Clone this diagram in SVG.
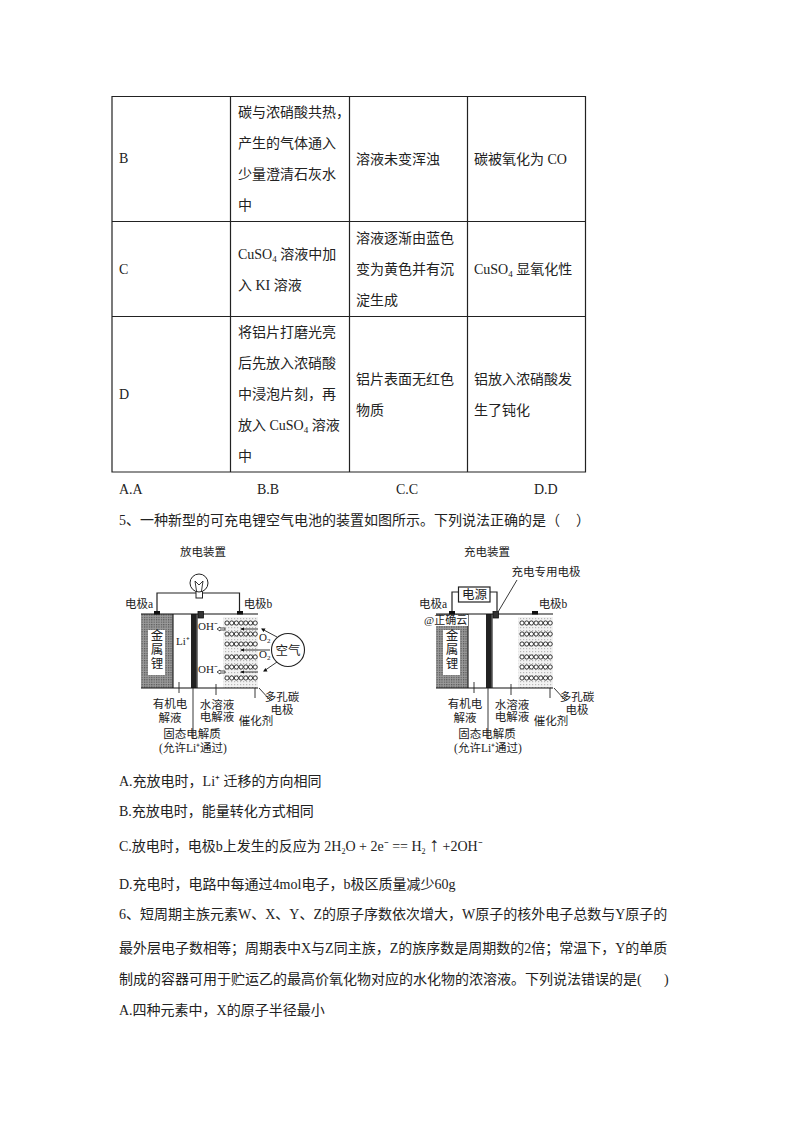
<svg xmlns="http://www.w3.org/2000/svg" xmlns:xlink="http://www.w3.org/1999/xlink" width="794" height="1123" viewBox="0 0 794 1123">
<style>
text{font-family:"Liberation Serif","Noto Sans CJK SC",serif;fill:#222}
.t{font-size:14px}
.l{font-size:11.5px;text-anchor:middle}
.m{font-size:12.5px;text-anchor:middle}
.g{fill:none;stroke:#222;stroke-width:1.2}
.b{fill:none;stroke:#111;stroke-width:1.1}
.f{font-size:11px}
.hd{fill:#111}
.ho{fill:#fff;stroke:#222;stroke-width:.8}
.c{fill:#fff;stroke:#222;stroke-width:.9}
.lead{fill:none;stroke:#222;stroke-width:.9}
</style>
<defs>
<pattern id="dots" width="2.4" height="2.4" patternUnits="userSpaceOnUse"><rect width="2.4" height="2.4" fill="#9a9a9a"/><rect width="1.2" height="1.2" fill="#555"/></pattern>
<pattern id="dotsL" width="3" height="3" patternUnits="userSpaceOnUse"><rect width="3" height="3" fill="#f2f2f2"/><rect width="1.2" height="1.2" fill="#b8b8b8"/></pattern>
<g id="row"><circle class="c" cx="0" cy="0" r="2.1"/><circle class="c" cx="4.7" cy="0" r="2.1"/><circle class="c" cx="9.4" cy="0" r="2.1"/><circle class="c" cx="14.1" cy="0" r="2.1"/><circle class="c" cx="18.8" cy="0" r="2.1"/><circle class="c" cx="23.5" cy="0" r="2.1"/><circle class="c" cx="28.2" cy="0" r="2.1"/></g>
<g id="cell">
<rect x="223" y="617" width="35" height="71" fill="url(#dotsL)"/>
<rect x="141" y="614" width="32" height="74" fill="url(#dots)"/>
<rect x="148" y="630" width="17" height="45" fill="#fff"/>
<rect x="191" y="614" width="5.500" height="74" fill="#222"/>
<path class="b" d="M141 614H258M141 688H258M173 614V688M197 614V688"/>
<use xlink:href="#row" x="227" y="623"/><use xlink:href="#row" x="227" y="634"/><use xlink:href="#row" x="227" y="644"/><use xlink:href="#row" x="227" y="657"/><use xlink:href="#row" x="227" y="667"/><use xlink:href="#row" x="227" y="678"/>
<rect x="154" y="611" width="6" height="3.500" fill="#111"/><rect x="237" y="611" width="6" height="3.500" fill="#111"/>
<rect x="198" y="611.500" width="5.500" height="6.500" fill="#333" stroke="#111" stroke-width=".8"/>
<path class="lead" d="M179 682V693M193 688V738M216 684V695M255 688V698M259 688L270 700"/>
<text class="m" x="157" y="640">金</text><text class="m" x="157" y="654">属</text><text class="m" x="157" y="668">锂</text>
<text class="l" x="170" y="708">有机电</text><text class="l" x="170" y="722">解液</text>
<text class="l" x="217" y="709">水溶液</text><text class="l" x="217" y="721">电解液</text>
<text class="l" x="256" y="725">催化剂</text>
<text class="l" x="282" y="701">多孔碳</text><text class="l" x="282" y="714">电极</text>
<text class="l" x="192" y="738">固态电解质</text>
<text class="l" x="193" y="752">(允许Li⁺通过)</text>
</g>
</defs>
<rect width="794" height="1123" fill="#fff"/>
<g id="table">
<path class="g" d="M112 96.500H585.500V472H112ZM112 221.500H585.500M112 316.500H585.500M230.500 96.500V472M349.500 96.500V472M467.500 96.500V472"/>
<text class="t" x="119" y="163">B</text>
<text class="t" x="238" y="117">碳与浓硝酸共热，</text>
<text class="t" x="238" y="148">产生的气体通入</text>
<text class="t" x="238" y="179">少量澄清石灰水</text>
<text class="t" x="238" y="210">中</text>
<text class="t" x="356" y="164">溶液未变浑浊</text>
<text class="t" x="474" y="164">碳被氧化为 CO</text>
<text class="t" x="119" y="274">C</text>
<text class="t" x="238" y="259">CuSO<tspan font-size="9" dy="3">4</tspan><tspan dy="-3"> 溶液中加</tspan></text>
<text class="t" x="238" y="290">入 KI 溶液</text>
<text class="t" x="356" y="243">溶液逐渐由蓝色</text>
<text class="t" x="356" y="274">变为黄色并有沉</text>
<text class="t" x="356" y="305">淀生成</text>
<text class="t" x="474" y="274">CuSO<tspan font-size="9" dy="3">4</tspan><tspan dy="-3"> 显氧化性</tspan></text>
<text class="t" x="119" y="399">D</text>
<text class="t" x="238" y="337">将铝片打磨光亮</text>
<text class="t" x="238" y="368">后先放入浓硝酸</text>
<text class="t" x="238" y="399">中浸泡片刻，再</text>
<text class="t" x="238" y="430">放入 CuSO<tspan font-size="9" dy="3">4</tspan><tspan dy="-3"> 溶液</tspan></text>
<text class="t" x="238" y="461">中</text>
<text class="t" x="356" y="384">铝片表面无红色</text>
<text class="t" x="356" y="415">物质</text>
<text class="t" x="474" y="384">铝放入浓硝酸发</text>
<text class="t" x="474" y="415">生了钝化</text>
</g>
<g id="answers">
<text class="t" x="119" y="494">A.A</text><text class="t" x="257" y="494">B.B</text><text class="t" x="396" y="494">C.C</text><text class="t" x="534" y="494">D.D</text>
<text class="t" x="119" y="525">5、一种新型的可充电锂空气电池的装置如图所示。下列说法正确的是（</text>
<text class="t" x="576" y="525">）</text>
</g>
<g id="discharge-device">
<text class="l" x="203" y="556">放电装置</text>
<use xlink:href="#cell"/>
<path class="g" d="M157 611V593H239.500V611"/>
<rect x="196" y="590" width="6.500" height="8" fill="#fff" stroke="#222"/>
<circle cx="199" cy="583" r="9" fill="#fff" stroke="#222"/>
<path class="lead" d="M196.500 591L195 581M201.500 591L203 581M195 581L199 585L203 581"/>
<text class="l" x="139" y="608">电极a</text><text class="l" x="258" y="608">电极b</text>
<text class="f" x="176" y="645">Li⁺</text>
<text class="f" x="198" y="630">OH⁻</text><text class="f" x="198" y="673">OH⁻</text>
<circle cx="288" cy="650" r="16.500" fill="#fff" stroke="#222" stroke-width="1.100"/>
<text class="m" x="288" y="655">空气</text>
<text class="f" x="259" y="641">O<tspan font-size="7" dy="2">2</tspan></text>
<text class="f" x="259" y="658">O<tspan font-size="7" dy="2">2</tspan></text>
<path class="lead" d="M277 637L262 629M277 662L264 671M270 650H241M258 629H241M258 672H241"/>
<path class="hd" d="M261 628.500L265.500 628.500L263.500 632ZM263 671.500L267.500 671.500L265.500 668ZM240 650L244 648.500V651.500ZM240 629L244 627.500V630.500ZM240 672L244 670.500V673.500Z"/>
<path class="ho" d="M217 629L220 627V628H225V630H220V631ZM217 672L220 670V671H225V673H220V674Z"/>
</g>
<g id="charge-device">
<text class="l" x="487" y="556">充电装置</text>
<g transform="translate(295 0)"><use xlink:href="#cell"/></g>
<path class="g" d="M452 611V592H459M490 592H497V611"/>
<rect x="458.500" y="587" width="31.500" height="15" fill="#fff" stroke="#222" stroke-width="1.200"/>
<text class="m" x="474.500" y="599">电源</text>
<text class="l" x="546" y="576">充电专用电极</text>
<path class="lead" d="M498 612L517 580"/>
<text class="l" x="433" y="608">电极a</text><text class="l" x="553" y="608">电极b</text>
<rect x="432" y="615" width="36" height="11" fill="#fff"/>
<text class="f" x="424" y="624">@正确云</text>
</g>
<g id="questions">
<text class="t" x="119" y="786">A.充放电时，Li⁺ 迁移的方向相同</text>
<text class="t" x="119" y="816">B.充放电时，能量转化方式相同</text>
<text class="t" x="119" y="851">C.放电时，电极b上发生的反应为 2H<tspan font-size="8" dy="3">2</tspan><tspan dy="-3">O + 2e⁻ == H</tspan><tspan font-size="8" dy="3">2</tspan><tspan dy="-3"> </tspan><tspan font-size="20">↑</tspan><tspan> +2OH⁻</tspan></text>
<text class="t" x="119" y="889">D.充电时，电路中每通过4mol电子，b极区质量减少60g</text>
<text class="t" x="119" y="919">6、短周期主族元素W、X、Y、Z的原子序数依次增大，W原子的核外电子总数与Y原子的</text>
<text class="t" x="119" y="953">最外层电子数相等；周期表中X与Z同主族，Z的族序数是周期数的2倍；常温下，Y的单质</text>
<text class="t" x="119" y="984">制成的容器可用于贮运乙的最高价氧化物对应的水化物的浓溶液。下列说法错误的是(</text>
<text class="t" x="664" y="984">)</text>
<text class="t" x="119" y="1015">A.四种元素中，X的原子半径最小</text>
</g>
</svg>
